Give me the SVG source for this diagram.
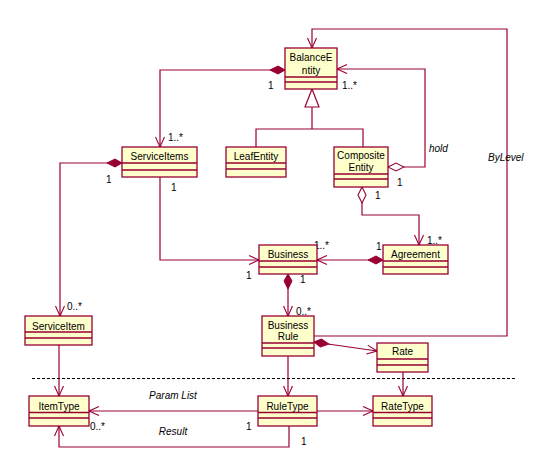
<svg xmlns="http://www.w3.org/2000/svg" width="554" height="476" viewBox="0 0 554 476">
<style>
.box{fill:#FFFFCC;stroke:#990033;stroke-width:1.3}
.sep{stroke:#990033;stroke-width:1.3}
.c{fill:none;stroke:#990033;stroke-width:1.2}
text{font-family:"Liberation Sans",Arial,sans-serif;font-size:10px;fill:#000}
.n{text-anchor:middle}
.i{font-style:italic}
</style>
<defs>
<marker id="arr" markerUnits="userSpaceOnUse" markerWidth="14" markerHeight="14" viewBox="-12 -7 14 14" refX="0" refY="0" orient="auto">
<path d="M-10,-4.5 L0,0 L-10,4.5" fill="none" stroke="#990033" stroke-width="1.1"/>
<circle cx="-0.5" cy="0" r="1.3" fill="#990033"/>
</marker>
<marker id="fd" markerUnits="userSpaceOnUse" markerWidth="18" markerHeight="12" viewBox="-1 -6 18 12" refX="0" refY="0" orient="auto">
<path d="M0,0 L7,-4 L15,0 L7,4 Z" fill="#990033" stroke="#990033" stroke-width="1"/>
</marker>
<marker id="hd" markerUnits="userSpaceOnUse" markerWidth="18" markerHeight="12" viewBox="-1 -6 18 12" refX="0" refY="0" orient="auto">
<path d="M0,0 L8,-4 L16,0 L8,4 Z" fill="#FFFFFF" stroke="#990033" stroke-width="1.1"/>
</marker>
</defs>
<rect width="554" height="476" fill="#FFFFFF"/>
<g id="connectors">
<path class="c" d="M285,70 L160,70 L160,147" marker-start="url(#fd)" marker-end="url(#arr)"/>
<path class="c" d="M122,163 L60,163 L60,316" marker-start="url(#fd)" marker-end="url(#arr)"/>
<path class="c" d="M160,177 L160,260 L259,260" marker-end="url(#arr)"/>
<path class="c" d="M312,107 L312,129 M256,147 L256,129 L363,129 L363,147"/>
<polygon points="312,89 305,107 319,107" fill="#FFFFFF" stroke="#990033" stroke-width="1.2"/>
<path class="c" d="M388,167 L425,167 L425,69 L337,69" marker-start="url(#hd)" marker-end="url(#arr)"/>
<path class="c" d="M362,187 L362,215 L419,215 L419,245" marker-start="url(#hd)" marker-end="url(#arr)"/>
<path class="c" d="M383,260 L317,260" marker-start="url(#fd)" marker-end="url(#arr)"/>
<path class="c" d="M288,274 L288,316" marker-start="url(#fd)" marker-end="url(#arr)"/>
<path class="c" d="M314,342 L377,351" marker-start="url(#fd)" marker-end="url(#arr)"/>
<path class="c" d="M314,336 L507,336 L507,29 L312,29 L312,48" marker-end="url(#arr)"/>
<path class="c" d="M288,356 L288,396" marker-end="url(#arr)"/>
<path class="c" d="M403,372 L403,396" marker-end="url(#arr)"/>
<path class="c" d="M59,345 L59,396" marker-end="url(#arr)"/>
<path class="c" d="M258,411 L89,411" marker-end="url(#arr)"/>
<path class="c" d="M317,411 L373,411" marker-end="url(#arr)"/>
<path class="c" d="M289,426 L289,447 L59,447 L59,426" marker-end="url(#arr)"/>
<path d="M32,378.5 L517,378.5" stroke="#000" stroke-width="1" stroke-dasharray="3,2" fill="none"/>
</g>
<g id="labels">
<text x="268" y="89">1</text>
<text x="342" y="89">1..*</text>
<text x="168" y="141">1..*</text>
<text x="106" y="183">1</text>
<text x="171" y="191">1</text>
<text x="429" y="152" class="i">hold</text>
<text x="488" y="161" class="i">ByLevel</text>
<text x="397" y="186">1</text>
<text x="375" y="199">1</text>
<text x="427" y="244">1..*</text>
<text x="314" y="249">1..*</text>
<text x="376" y="250">1</text>
<text x="246" y="279">1</text>
<text x="300" y="283">1</text>
<text x="296" y="315">0..*</text>
<text x="67" y="310">0..*</text>
<text x="173" y="399" class="n i">Param List</text>
<text x="90" y="430">0..*</text>
<text x="246" y="430">1</text>
<text x="173" y="435" class="n i">Result</text>
<text x="301" y="445">1</text>
</g>
<g id="BalanceEntity">
<rect class="box" x="285" y="48" width="52" height="41"/>
<path class="sep" d="M285,77 H337 M285,82 H337"/>
<text x="311" y="61" class="n">BalanceE</text>
<text x="311" y="74" class="n">ntity</text>
</g>
<g id="ServiceItems">
<rect class="box" x="122" y="147" width="75" height="30"/>
<path class="sep" d="M122,163 H197 M122,170 H197"/>
<text x="159.5" y="160" class="n">ServiceItems</text>
</g>
<g id="LeafEntity">
<rect class="box" x="226" y="147" width="60" height="30"/>
<path class="sep" d="M226,163 H286 M226,169 H286"/>
<text x="256" y="160" class="n">LeafEntity</text>
</g>
<g id="CompositeEntity">
<rect class="box" x="334" y="147" width="54" height="40"/>
<path class="sep" d="M334,174 H388 M334,179 H388"/>
<text x="361" y="159" class="n">Composite</text>
<text x="361" y="171" class="n">Entity</text>
</g>
<g id="Business">
<rect class="box" x="259" y="245" width="58" height="29"/>
<path class="sep" d="M259,261 H317 M259,267 H317"/>
<text x="288" y="257.5" class="n">Business</text>
</g>
<g id="Agreement">
<rect class="box" x="383" y="245" width="65" height="29"/>
<path class="sep" d="M383,261 H448 M383,267 H448"/>
<text x="415.5" y="257.5" class="n">Agreement</text>
</g>
<g id="ServiceItem">
<rect class="box" x="25" y="316" width="67" height="29"/>
<path class="sep" d="M25,332 H92 M25,338 H92"/>
<text x="58.5" y="330" class="n">ServiceItem</text>
</g>
<g id="BusinessRule">
<rect class="box" x="262" y="316" width="52" height="40"/>
<path class="sep" d="M262,343 H314 M262,348 H314"/>
<text x="288" y="328.5" class="n">Business</text>
<text x="288" y="340" class="n">Rule</text>
</g>
<g id="Rate">
<rect class="box" x="377" y="343" width="51" height="29"/>
<path class="sep" d="M377,359 H428 M377,365 H428"/>
<text x="402.5" y="355" class="n">Rate</text>
</g>
<g id="ItemType">
<rect class="box" x="29" y="396" width="60" height="30"/>
<path class="sep" d="M29,412.5 H89 M29,418 H89"/>
<text x="59" y="410" class="n">ItemType</text>
</g>
<g id="RuleType">
<rect class="box" x="258" y="396" width="59" height="30"/>
<path class="sep" d="M258,412.5 H317 M258,418 H317"/>
<text x="287.5" y="410" class="n">RuleType</text>
</g>
<g id="RateType">
<rect class="box" x="373" y="396" width="59" height="30"/>
<path class="sep" d="M373,412.5 H432 M373,418 H432"/>
<text x="402.5" y="410" class="n">RateType</text>
</g>
</svg>
